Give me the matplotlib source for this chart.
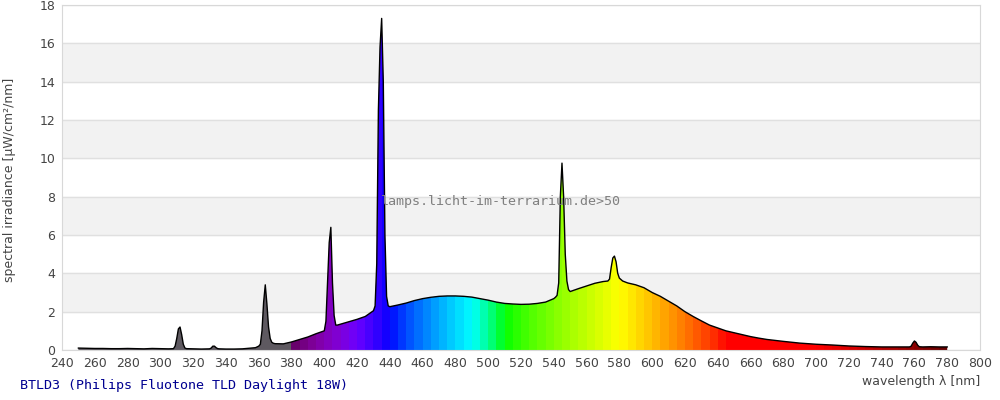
import numpy as np
import matplotlib
matplotlib.use('Agg')
import matplotlib.pyplot as plt

# spectrum (nm, uW/cm2/nm)
wavelength = [250, 255, 260, 265, 270, 275, 280, 285, 290, 295, 300, 305, 308,
              309, 310, 311, 312, 313, 314, 315, 316, 320, 325, 330, 331, 332, 333,
              334, 335, 336, 340, 345, 350, 355, 358, 360, 361, 362, 363, 364, 365,
              366, 367, 368, 369, 370, 375, 380, 385, 390, 395, 400, 401, 402, 403,
              404, 405, 406, 407, 408, 410, 415, 420, 425, 430, 431, 432, 433, 434,
              435, 436, 437, 438, 439, 440, 445, 450, 455, 460, 465, 470, 475, 480,
              485, 490, 495, 500, 505, 510, 515, 520, 525, 530, 535, 540, 541, 542,
              543, 544, 545, 546, 547, 548, 549, 550, 555, 560, 565, 570, 573, 574,
              575, 576, 577, 578, 579, 580, 582, 585, 590, 595, 600, 605, 610, 615,
              620, 625, 630, 635, 640, 645, 650, 655, 660, 665, 670, 675, 680, 690,
              700, 710, 720, 730, 740, 750, 757, 758, 759, 760, 761, 762, 763, 765,
              770, 775, 780]
irradiance = [0.10, 0.09, 0.08, 0.08, 0.07, 0.07, 0.08, 0.07, 0.06, 0.08, 0.07, 0.06, 0.07,
              0.20, 0.60, 1.10, 1.20, 0.80, 0.30, 0.10, 0.07, 0.06, 0.05, 0.06, 0.10, 0.20, 0.20,
              0.12, 0.07, 0.06, 0.05, 0.05, 0.06, 0.10, 0.12, 0.20, 0.30, 1.00, 2.50, 3.40, 2.40,
              1.20, 0.60, 0.40, 0.35, 0.33, 0.32, 0.42, 0.55, 0.68, 0.85, 1.00, 1.50, 3.50, 5.60,
              6.40, 3.50, 1.80, 1.30, 1.30, 1.35, 1.47, 1.60, 1.75, 2.05, 2.30, 4.50, 12.5, 15.8,
              17.3, 14.0, 6.00, 2.80, 2.30, 2.26, 2.35, 2.45, 2.58, 2.68, 2.75, 2.80, 2.82, 2.82,
              2.80, 2.76, 2.68, 2.60, 2.50, 2.43, 2.40, 2.38, 2.39, 2.43, 2.50, 2.68, 2.75, 2.85,
              3.50, 8.00, 9.75, 8.00, 5.00, 3.60, 3.15, 3.05, 3.20, 3.34, 3.48, 3.57, 3.60, 3.70,
              4.30, 4.80, 4.90, 4.60, 4.00, 3.75, 3.60, 3.50, 3.40, 3.25, 3.00, 2.80, 2.55, 2.30,
              2.00, 1.75, 1.52, 1.30, 1.15, 1.00, 0.90, 0.80, 0.70, 0.62, 0.55, 0.50, 0.45, 0.36,
              0.30, 0.26, 0.21, 0.18, 0.16, 0.16, 0.16, 0.20, 0.36, 0.47, 0.40, 0.25, 0.17, 0.16,
              0.17, 0.16, 0.16]

title = 'BTLD3 (Philips Fluotone TLD Daylight 18W)'
watermark = 'lamps.licht-im-terrarium.de>50'
x_ticks = list(range(240, 801, 20))
y_ticks = list(range(0, 19, 2))


def wl_to_rgb(w):
    # quantised to 5 nm bands like the reference
    w = np.floor(w / 5.0) * 5 + 2.5
    if w < 380:
        return (0.37, 0.35, 0.38)
    if w < 440:
        r, g, b = -(w - 440) / 60, 0.0, 1.0
    elif w < 490:
        r, g, b = 0.0, (w - 440) / 50, 1.0
    elif w < 510:
        r, g, b = 0.0, 1.0, -(w - 510) / 20
    elif w < 580:
        r, g, b = (w - 510) / 70, 1.0, 0.0
    elif w < 645:
        r, g, b = 1.0, -(w - 645) / 65, 0.0
    else:
        r, g, b = 1.0, 0.0, 0.0
    if w < 420:
        f = 0.3 + 0.7 * (w - 380) / 40
    elif w > 700:
        f = 0.3 + 0.7 * (780 - w) / 80
    else:
        f = 1.0
    return tuple((c * f) ** 0.8 if c > 0 else 0.0 for c in (r, g, b))


fig = plt.figure(figsize=(10, 4), dpi=100)
ax = fig.add_axes([0.062, 0.125, 0.918, 0.8625])

# alternating bands + grid
for lo in (2, 6, 10, 14):
    ax.axhspan(lo, lo + 2, color='#f2f2f2', zorder=0)
for y in y_ticks:
    ax.axhline(y, color='#e0e0e0', lw=1, zorder=0.5)

# coloured fill clipped to the curve
grid_wl = np.arange(240, 800, 0.5)
img = np.array([[wl_to_rgb(w) for w in grid_wl]])
im = ax.imshow(img, extent=[240, 800, 0, 18], aspect='auto', origin='lower',
               interpolation='nearest', zorder=1)
poly = ax.fill_between(wavelength, irradiance, 0, color='none', lw=0)
im.set_clip_path(poly.get_paths()[0], transform=ax.transData)

ax.plot(wavelength, irradiance, color='black', lw=1.0, zorder=3)

ax.text(434.6, 7.77, watermark, family='DejaVu Sans Mono', fontsize=9.6,
        color='#808080', va='center', ha='left', zorder=4)

ax.set_xlim(240, 800)
ax.set_ylim(0, 18)
ax.set_xticks(x_ticks)
ax.set_yticks(y_ticks)
ax.tick_params(length=0, labelsize=9, colors='#444444', pad=5)
for s in ax.spines.values():
    s.set_color('#d8d8d8')

fig.text(0.01, 0.55, 'spectral irradiance [µW/cm²/nm]', rotation=90,
         fontsize=9, color='#444444', ha='center', va='center')
fig.text(0.98, 0.047, 'wavelength λ [nm]', fontsize=9, color='#444444',
         ha='right', va='center')
fig.text(0.02, 0.037, title, family='DejaVu Sans Mono', fontsize=9.6,
         color='#000090', ha='left', va='center')

fig.savefig('out.png', dpi=100)
